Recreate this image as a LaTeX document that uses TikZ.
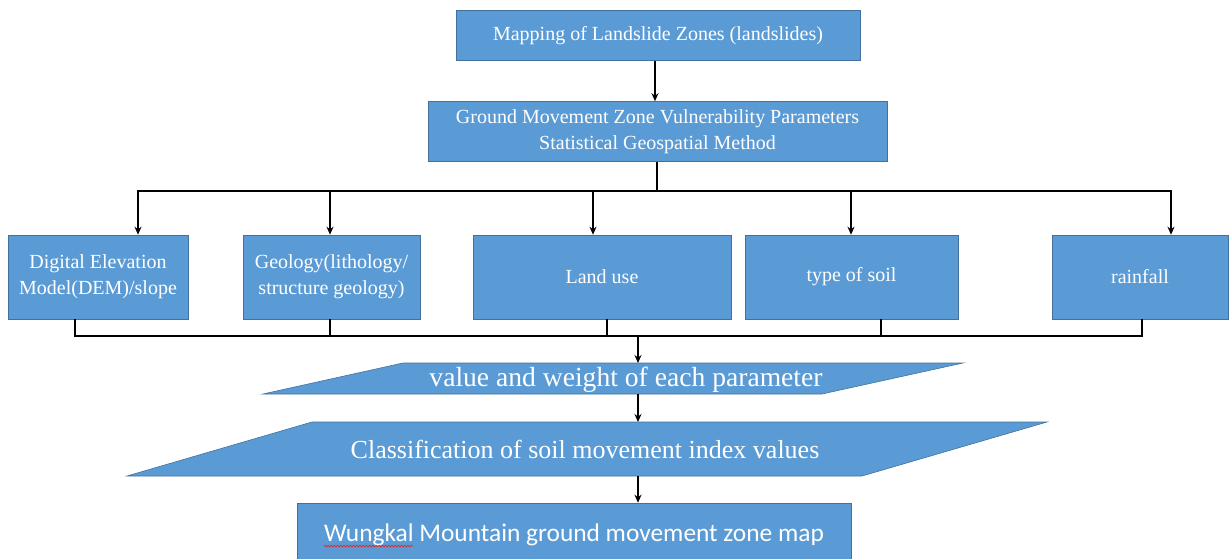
\documentclass[tikz,border=0pt]{standalone}
\usepackage{fontspec}
\setmainfont{Liberation Serif}
\newfontfamily\carlito{Carlito}
\usetikzlibrary{arrows.meta,decorations.pathmorphing,calc}
\definecolor{boxblue}{HTML}{5B9BD5}
\definecolor{boxedge}{HTML}{41719C}
\definecolor{squig}{HTML}{E0262B}
\newlength\wwlen
\begin{document}
\settowidth{\wwlen}{\carlito\fontsize{25.4}{30}\selectfont Wungkal}%
\begin{tikzpicture}[x=1pt,y=-1pt,
  box/.style={draw=boxedge, line width=0.6pt, fill=boxblue, text=white, inner sep=0pt, align=center, font=\fontsize{20}{26}\selectfont},
  arr/.style={-{Stealth[length=8pt,width=7pt]}, line width=1.8pt},
  ln/.style={line width=1.8pt},
  para/.style={draw=boxedge, line width=0.6pt, fill=boxblue},
  ptext/.style={text=white, inner sep=0pt}]
\useasboundingbox (0,0) rectangle (1229,559);

% top boxes
\node[box, minimum width=404pt, minimum height=50pt] (b1) at (658,35.5) {Mapping of Landslide Zones (landslides)};
\node[box, minimum width=459pt, minimum height=60pt] (b2) at (657.5,131.5) {Ground Movement Zone Vulnerability Parameters\\Statistical Geospatial Method};
\draw[arr] ([xshift=-3pt]b1.south) -- ([xshift=-3pt]b1.south |- b2.north);

% parameter boxes
\node[box, minimum width=180pt, minimum height=84pt] (pa) at (98,277) {Digital Elevation\\Model(DEM)/slope};
\node[box, minimum width=177pt, minimum height=84pt] (pb) at (331.5,277) {Geology(lithology/\\structure geology)};
\node[box, minimum width=258pt, minimum height=84pt] (pc) at (602,277) {Land use};
\node[box, minimum width=213pt, minimum height=84pt] (pd) at (851.5,277) {type of soil};
\node[box, minimum width=176pt, minimum height=84pt] (pe) at (1140,277) {rainfall};

\coordinate (hub) at (657,191);
\draw[ln] (hub |- b2.south) -- (hub);
\draw[arr] (hub) -| ([xshift=40pt]pa.north);
\draw[arr] (hub) -| ([xshift=-1.5pt]pb.north);
\draw[arr] (hub) -| ([xshift=-9pt]pc.north);
\draw[arr] (hub) -| ([xshift=-0.5pt]pd.north);
\draw[arr] (hub) -| ([xshift=31pt]pe.north);

\coordinate (join) at (638,336);
\draw[ln] ([xshift=-23pt]pa.south) |- (join);
\draw[ln] ([xshift=-1.5pt]pb.south) |- (join);
\draw[ln] ([xshift=5pt]pc.south) |- (join);
\draw[ln] ([xshift=29.5pt]pd.south) |- (join);
\draw[ln] ([xshift=2pt]pe.south) |- (join);

% parallelogram 1
\coordinate (p1bl) at (263,394);
\coordinate (p1tl) at (403,363);
\coordinate (p1tr) at (963,363);
\coordinate (p1br) at (822,394);
\path[para] (p1bl) -- (p1tl) -- (p1tr) -- (p1br) -- cycle;
\node[ptext, font=\fontsize{27.6}{30}\selectfont] (p1) at (626,380) {value and weight of each parameter};
\coordinate (p1top) at (638,363);
\coordinate (p1bot) at (638,394);
\draw[arr] (join) -- (p1top);

% parallelogram 2
\coordinate (p2bl) at (127,476);
\coordinate (p2tl) at (312,422);
\coordinate (p2tr) at (1047,422);
\coordinate (p2br) at (862,476);
\path[para] (p2bl) -- (p2tl) -- (p2tr) -- (p2br) -- cycle;
\node[ptext, font=\fontsize{26}{30}\selectfont] (p2) at (585,449) {Classification of soil movement index values};
\coordinate (p2top) at (638,422);
\coordinate (p2bot) at (638,476);
\draw[arr] (p1bot) -- (p2top);

% final box
\node[box, minimum width=554pt, minimum height=62pt] (fin) at (574,534) {};
\node[text=white, inner sep=0pt, font=\carlito\fontsize{25.4}{30}\selectfont] (fint) at (574,535) {Wungkal Mountain ground movement zone map};
\draw[arr] (p2bot) -- (p2bot |- fin.north);
\draw[squig, line width=0.7pt, decorate, decoration={snake, amplitude=0.9pt, segment length=3.2pt}] ([yshift=-4.5pt]fint.base west) -- ++(\wwlen,0);
\end{tikzpicture}
\end{document}
